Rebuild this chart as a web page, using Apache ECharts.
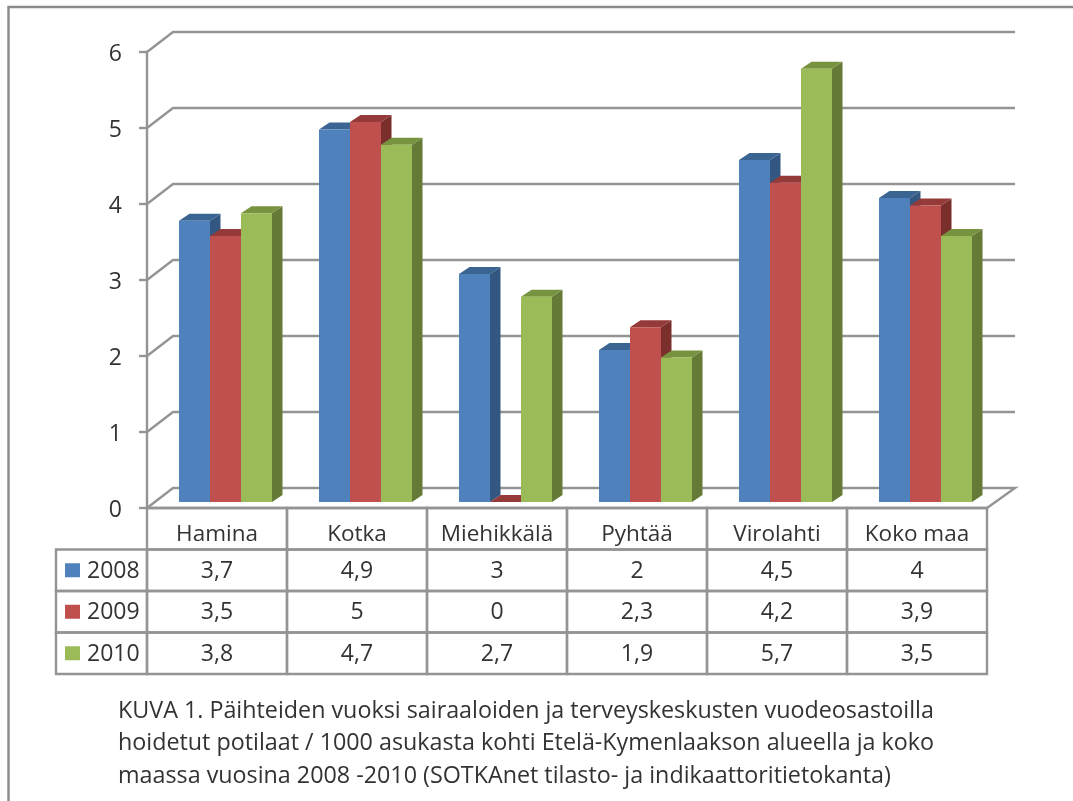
<!DOCTYPE html>
<html><head><meta charset="utf-8">
<style>html,body{margin:0;padding:0;background:#fff}#c{width:1073px;height:801px}</style>
<script src="https://cdn.jsdelivr.net/npm/echarts@6/dist/echarts.min.js"></script>
</head><body><div id="c"></div>
<script>
const categories = ['Hamina','Kotka','Miehikkälä','Pyhtää','Virolahti','Koko maa'];
const years = ['2008','2009','2010'];
const values2008 = [3.7,4.9,3,2,4.5,4];
const values2009 = [3.5,5,0,2.3,4.2,3.9];
const values2010 = [3.8,4.7,2.7,1.9,5.7,3.5];
const yTicks = [0,1,2,3,4,5,6];
const caption = 'KUVA 1. Päihteiden vuoksi sairaaloiden ja terveyskeskusten vuodeosastoilla\nhoidetut potilaat / 1000 asukasta kohti Etelä-Kymenlaakson alueella ja koko\nmaassa vuosina 2008 -2010 (SOTKAnet tilasto- ja indikaattoritietokanta)';

const FONT = '"Open Sans"';
const TXT = '#333';
const LINE = '#949494';
const palette = [
  {front:'#4F81BD', top:'#3A6491', side:'#335781'},
  {front:'#C0504D', top:'#943A38', side:'#7A2F2D'},
  {front:'#9BBB59', top:'#77933F', side:'#647A36'}
];
const allValues = [values2008, values2009, values2010];

function barSeries(idx){
  const BW = 31, DX = 10.5, DY = 7, SHIFT_X = 8.5, SHIFT_Y = 6;
  return {
    type:'custom', name:years[idx], xAxisIndex:0, yAxisIndex:0, z:3+idx, clip:false,
    data: allValues[idx].map((v,i)=>[i,v]),
    encode:{x:0,y:1},
    renderItem(params, api){
      const top = api.coord([api.value(0), api.value(1)]);
      const base = api.coord([api.value(0), 0]);
      const x0 = top[0] + SHIFT_X + (idx-1.5)*BW, x1 = x0 + BW;
      const yT = top[1] - SHIFT_Y, yB = base[1] - SHIFT_Y;
      const c = palette[idx];
      const children = [];
      if (yB - yT > 0) {
        children.push({type:'polygon', shape:{points:[[x1,yT],[x1+DX,yT-DY],[x1+DX,yB-DY],[x1,yB]]}, style:{fill:c.side}});
      }
      children.push({type:'polygon', shape:{points:[[x0,yT],[x0+DX,yT-DY],[x1+DX,yT-DY],[x1,yT]]}, style:{fill:c.top}});
      if (yB - yT > 0) {
        children.push({type:'rect', shape:{x:x0,y:yT,width:BW,height:yB-yT}, style:{fill:c.front}});
      }
      return {type:'group', children};
    }
  };
}

const wallSeries = {
  type:'custom', name:'walls', xAxisIndex:0, yAxisIndex:0, z:1, clip:false, silent:true,
  data: yTicks.map(t=>[0,t]),
  encode:{x:0,y:1},
  renderItem(params, api){
    const p = api.coord([0, api.value(1)]);
    const left = p[0] - api.size([1,0])[0]/2;
    const right = left + api.size([1,0])[0]*categories.length;
    const y = p[1];
    const pts = [[left,y],[left+26,y-20],[right+28,y-20]];
    if (api.value(1) === 0) pts.push([right,y]);
    return {type:'polyline', shape:{points:pts}, style:{fill:'none', stroke:LINE, lineWidth:2.4}};
  }
};

const tableData = [];
categories.forEach((c,i)=>{
  allValues.forEach((vals,r)=>{
    tableData.push([i, years[r], String(vals[i]).replace('.',',')]);
  });
});

const headerCells = {
  type:'custom', name:'header', xAxisIndex:1, yAxisIndex:1, z:2, clip:false, silent:true,
  data: categories.map((c,i)=>[i,'']),
  encode:{x:0,y:1},
  renderItem(params, api){
    const p = api.coord([api.value(0), 0]), s = api.size([1,1]);
    return {type:'rect', shape:{x:p[0]-s[0]/2,y:p[1]-s[1]/2,width:s[0],height:s[1]}, style:{fill:'none',stroke:LINE,lineWidth:2.4}};
  }
};
const bodyCells = {
  type:'custom', name:'table', xAxisIndex:1, yAxisIndex:1, z:2, clip:false, silent:true,
  data: tableData,
  encode:{x:0,y:1},
  renderItem(params, api){
    const row = years.indexOf(tableData[params.dataIndex][1]) + 1;
    const p = api.coord([api.value(0), row]), s = api.size([1,1]);
    return {type:'group', children:[
      {type:'rect', shape:{x:p[0]-s[0]/2,y:p[1]-s[1]/2,width:s[0],height:s[1]}, style:{fill:'none',stroke:LINE,lineWidth:2.4}},
      {type:'text', style:{x:p[0],y:p[1]+1,text:tableData[params.dataIndex][2],align:'center',verticalAlign:'middle',fill:TXT,font:'23px '+FONT}}
    ]};
  }
};
const rowHeaders = {
  type:'custom', name:'rows', xAxisIndex:1, yAxisIndex:1, z:2, clip:false, silent:true,
  data: years.map((y,i)=>[0,y]),
  encode:{x:0,y:1},
  renderItem(params, api){
    const row = params.dataIndex + 1;
    const p = api.coord([0, row]), s = api.size([1,1]);
    const xr = p[0]-s[0]/2, xl = xr-91;
    return {type:'group', children:[
      {type:'rect', shape:{x:xl,y:p[1]-s[1]/2,width:91,height:s[1]}, style:{fill:'none',stroke:LINE,lineWidth:2.4}},
      {type:'rect', shape:{x:xl+9,y:p[1]-7,width:15,height:14}, style:{fill:palette[params.dataIndex].front}},
      {type:'text', style:{x:xl+31,y:p[1]+1,text:years[params.dataIndex],align:'left',verticalAlign:'middle',fill:TXT,font:'23px '+FONT}}
    ]};
  }
};

const chart = echarts.init(document.getElementById('c'), null, {renderer:'canvas'});
chart.setOption({
  animation:false,
  backgroundColor:'#fff',
  title:{text:caption, left:113, top:690, textStyle:{fontFamily:FONT,fontSize:23.3,fontWeight:'normal',color:TXT,lineHeight:32.5}},
  grid:[
    {left:147, top:52, width:840, height:456, containLabel:false},
    {left:147, top:508, width:840, height:166, containLabel:false}
  ],
  xAxis:[
    {gridIndex:0, type:'category', data:categories,
     axisLine:{show:true,lineStyle:{color:LINE,width:2.4}}, axisTick:{show:false}, splitLine:{show:false},
     axisLabel:{show:true,interval:0,margin:15,color:TXT,fontFamily:FONT,fontSize:22.5,hideOverlap:false}},
    {gridIndex:1, type:'category', data:categories, show:false}
  ],
  yAxis:[
    {gridIndex:0, type:'value', min:0, max:6, interval:1,
     axisLine:{show:true,lineStyle:{color:LINE,width:2.4}},
     axisTick:{show:true,length:8,lineStyle:{color:LINE,width:2.4}},
     splitLine:{show:false},
     axisLabel:{margin:25,formatter:'{t|{value}}',
       rich:{t:{color:TXT,fontFamily:FONT,fontSize:23,padding:[5,0,0,0]}}}},
    {gridIndex:1, type:'category', inverse:true, data:[''].concat(years), show:false}
  ],
  graphic:[
    {type:'polyline', silent:true, shape:{points:[[8.5,801],[8.5,7],[1073,7]]}, style:{fill:'none',stroke:'#8a8a8a',lineWidth:2.4}}
  ],
  series:[wallSeries, headerCells, bodyCells, rowHeaders, barSeries(0), barSeries(1), barSeries(2)]
});
</script></body></html>
